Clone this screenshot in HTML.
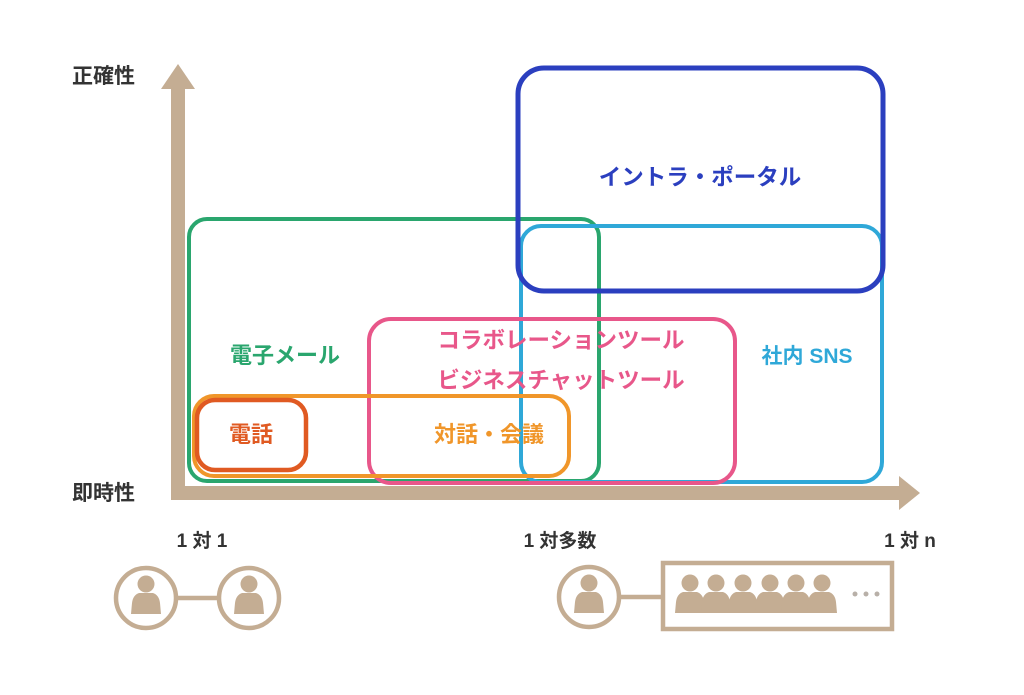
<!DOCTYPE html>
<html><head><meta charset="utf-8"><style>
html,body{margin:0;padding:0;background:#fff;}
svg{display:block}
text{font-family:"Liberation Sans","Noto Sans CJK JP",sans-serif;font-weight:bold}
</style></head><body>
<svg width="1024" height="695" viewBox="0 0 1024 695" xmlns="http://www.w3.org/2000/svg">
<rect width="1024" height="695" fill="#fff"/>
<g fill="#c4ad93">
<rect x="171" y="84" width="14" height="416"/>
<polygon points="178,64 161,89 195,89"/>
<rect x="171" y="486" width="733" height="14"/>
<polygon points="920,493 899,476 899,510"/>
</g>
<text x="72" y="83" font-size="21" fill="#333">正確性</text>
<text x="72" y="500" font-size="21" fill="#333">即時性</text>
<g fill="none" stroke-width="4">
<rect x="189" y="219" width="410" height="262" rx="18" stroke="#2aa66e"/>
<rect x="521" y="226" width="361" height="256" rx="20" stroke="#2fa8d8"/>
<rect x="518" y="68" width="365" height="223" rx="26" stroke="#2b3fbf" stroke-width="5"/>
<rect x="369" y="319" width="366" height="164" rx="22" stroke="#e8578a"/>
<rect x="194" y="396" width="375" height="80" rx="20" stroke="#f0962a"/>
<rect x="197" y="400" width="109" height="70" rx="18" stroke="#e05a22" stroke-width="4.5"/>
</g>
<text x="700" y="185" font-size="22.5" fill="#2b3fbf" text-anchor="middle">イントラ・ポータル</text>
<text x="285" y="363" font-size="22" fill="#2aa66e" text-anchor="middle">電子メール</text>
<text x="807" y="363" font-size="21" fill="#2fa8d8" text-anchor="middle">社内 SNS</text>
<text x="561" y="348" font-size="22.5" fill="#e8578a" text-anchor="middle">コラボレーションツール</text>
<text x="561" y="388" font-size="22.5" fill="#e8578a" text-anchor="middle">ビジネスチャットツール</text>
<text x="251" y="442" font-size="22" fill="#e05a22" text-anchor="middle">電話</text>
<text x="489" y="442" font-size="22" fill="#f0962a" text-anchor="middle">対話・会議</text>
<text x="202" y="547" font-size="19" fill="#333" text-anchor="middle">1 対 1</text>
<text x="560" y="547" font-size="19" fill="#333" text-anchor="middle">1 対多数</text>
<text x="910" y="547" font-size="19" fill="#333" text-anchor="middle">1 対 n</text>
<defs>
<g id="p"><circle cx="0" cy="-14" r="8.5"/><path d="M-7,-5 L7,-5 Q13,-3 14,5 L15,16 L-15,16 L-14,5 Q-13,-3 -7,-5Z"/></g>
</defs>
<g stroke="#c4ad93" stroke-width="4.5" fill="none">
<circle cx="146" cy="598" r="30"/>
<circle cx="249" cy="598" r="30"/>
<line x1="176" y1="598" x2="219" y2="598"/>
<circle cx="589" cy="597" r="30"/>
<line x1="619" y1="597" x2="663" y2="597"/>
<rect x="663" y="563" width="229" height="66"/>
</g>
<g fill="#c4ad93">
<use href="#p" x="146" y="598"/>
<use href="#p" x="249" y="598"/>
<use href="#p" x="589" y="597"/>
<use href="#p" x="690" y="597"/>
<use href="#p" x="716" y="597"/>
<use href="#p" x="743" y="597"/>
<use href="#p" x="770" y="597"/>
<use href="#p" x="796" y="597"/>
<use href="#p" x="822" y="597"/>
</g>
<g fill="#b8b0a8"><circle cx="855" cy="594" r="2.5"/><circle cx="866" cy="594" r="2.5"/><circle cx="877" cy="594" r="2.5"/></g>
</svg>
</body></html>
